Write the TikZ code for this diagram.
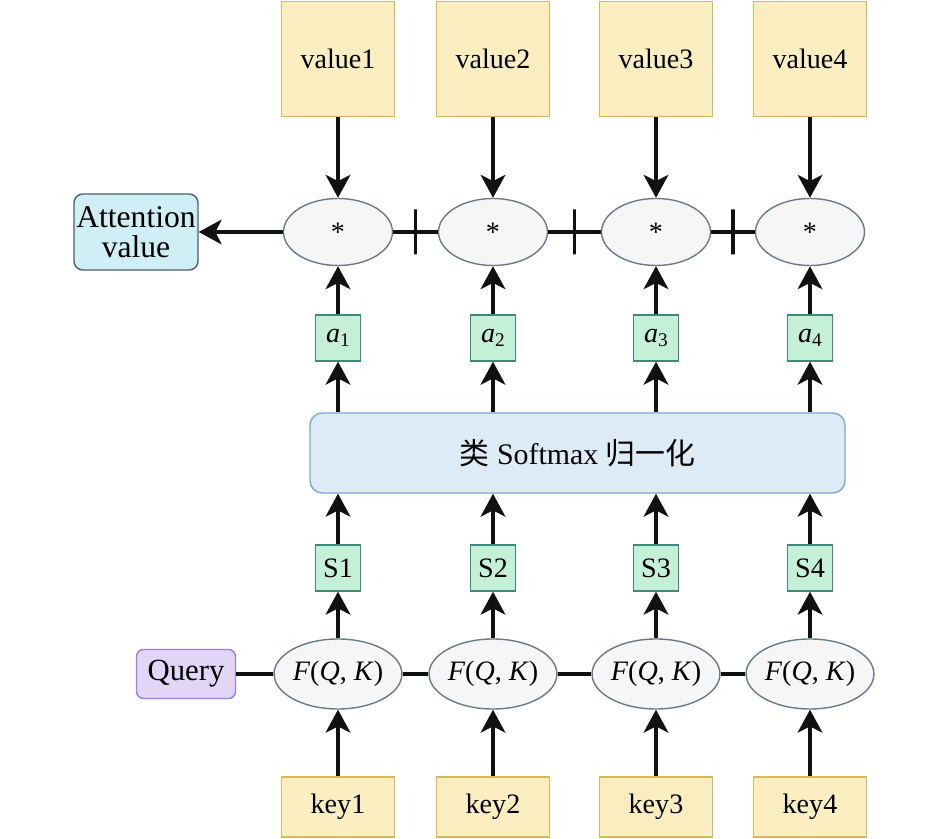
\documentclass[tikz,border=0pt]{standalone}
\usepackage{fontspec}
\setmainfont{Liberation Serif}
\newfontfamily\cjk{Noto Sans CJK SC}
\usepackage{xcolor}
\definecolor{ink}{HTML}{111111}
\definecolor{sandfill}{HTML}{FAEDC0}
\definecolor{sandline}{HTML}{D8B85E}
\definecolor{ovalfill}{HTML}{F6F6F6}
\definecolor{ovalline}{HTML}{6C7A88}
\definecolor{mintfill}{HTML}{C5F0D8}
\definecolor{mintline}{HTML}{3E8A78}
\definecolor{skyfill}{HTML}{DDEBF7}
\definecolor{skyline}{HTML}{80A6D2}
\definecolor{cyanfill}{HTML}{CFEEF5}
\definecolor{cyanline}{HTML}{4E5E6C}
\definecolor{lilacfill}{HTML}{E2D6F6}
\definecolor{lilacline}{HTML}{9C80D8}
\usepackage{tikz}
\usetikzlibrary{arrows.meta,shapes.geometric}
\newcommand{\wt}[1]{\textit{a}\raisebox{-0.35ex}{\fontsize{11}{12}\selectfont #1}}
\newcommand{\fqk}{\textit{F}(\textit{Q}, \textit{K})}

\begin{document}
\begin{tikzpicture}[
  font=\fontsize{16}{18}\selectfont,
  valbox/.style={draw=sandline, thick, fill=sandfill, minimum width=2.26cm, minimum height=2.3cm},
  keybox/.style={draw=sandline, thick, fill=sandfill, minimum width=2.26cm, minimum height=1.2cm},
  prod/.style={ellipse, draw=ovalline, thick, fill=ovalfill, minimum width=2.18cm,
               minimum height=1.34cm, inner sep=0pt},
  score/.style={ellipse, draw=ovalline, thick, fill=ovalfill, minimum width=2.12cm,
                minimum height=1.4cm, inner sep=0pt},
  wbox/.style={draw=mintline, thick, fill=mintfill, minimum width=0.9cm,
               minimum height=0.92cm, inner sep=1pt},
  link/.style={-{Stealth[length=13pt, width=14pt, inset=3.5pt]}, ink, line width=2.2pt},
  wire/.style={ink, line width=2.2pt},
  plusmark/.style={draw=ink, line width=2.2pt, minimum width=0pt, minimum height=0.9cm,
                   inner sep=0pt, outer sep=0pt}
]
  \useasboundingbox (0,0) rectangle (18.9,-16.78);

  % values
  \node[valbox] (v1) at ( 6.76,-1.18) {value1};
  \node[valbox] (v2) at ( 9.86,-1.18) {value2};
  \node[valbox] (v3) at (13.12,-1.18) {value3};
  \node[valbox] (v4) at (16.20,-1.18) {value4};

  % weighted products
  \node[prod] (m1) at ( 6.76,-4.64) {*};
  \node[prod] (m2) at ( 9.86,-4.64) {*};
  \node[prod] (m3) at (13.12,-4.64) {*};
  \node[prod] (m4) at (16.20,-4.64) {*};
  \node[draw=cyanline, thick, fill=cyanfill, rounded corners=5pt, align=center,
        font=\fontsize{18}{20}\selectfont,
        minimum width=2.48cm, minimum height=1.52cm, inner sep=1pt] (att) at (2.72,-4.64)
        {Attention\\[-3pt]value};

  % weights
  \node[wbox] (a1) at ( 6.76,-6.76) {\wt{1}};
  \node[wbox] (a2) at ( 9.86,-6.76) {\wt{2}};
  \node[wbox] (a3) at (13.12,-6.76) {\wt{3}};
  \node[wbox] (a4) at (16.20,-6.76) {\wt{4}};

  \node[draw=skyline, thick, fill=skyfill, rounded corners=7pt, font=\fontsize{17}{19}\selectfont,
        minimum width=10.7cm, minimum height=1.6cm] (soft) at (11.55,-9.06)
        {{\cjk 类} Softmax {\cjk 归一化}};

  % scores
  \node[wbox] (s1) at ( 6.76,-11.36) {S1};
  \node[wbox] (s2) at ( 9.86,-11.36) {S2};
  \node[wbox] (s3) at (13.12,-11.36) {S3};
  \node[wbox] (s4) at (16.20,-11.36) {S4};

  \node[score] (f1) at ( 6.76,-13.48) {\fqk};
  \node[score] (f2) at ( 9.86,-13.48) {\fqk};
  \node[score] (f3) at (13.12,-13.48) {\fqk};
  \node[score] (f4) at (16.20,-13.48) {\fqk};
  \node[draw=lilacline, thick, fill=lilacfill, rounded corners=4pt,
        font=\fontsize{17.5}{19}\selectfont,
        minimum width=1.98cm, minimum height=0.98cm] (qry) at (3.72,-13.48) {Query};

  \node[keybox] (k1) at ( 6.76,-16.14) {key1};
  \node[keybox] (k2) at ( 9.86,-16.14) {key2};
  \node[keybox] (k3) at (13.12,-16.14) {key3};
  \node[keybox] (k4) at (16.20,-16.14) {key4};

  % connectors
  \draw[link] (v1) -- (m1);
  \draw[link] (v2) -- (m2);
  \draw[link] (v3) -- (m3);
  \draw[link] (v4) -- (m4);
  \draw[link] (m1) -- (att);
  \draw[wire] (m1) -- node[plusmark] {} (m2);
  \draw[wire] (m2) -- node[plusmark] {} (m3);
  \draw[wire] (m3) -- node[plusmark] {} (m4);

  \draw[link] (a1) -- (m1);
  \draw[link] (a2) -- (m2);
  \draw[link] (a3) -- (m3);
  \draw[link] (a4) -- (m4);
  \draw[link] (soft.north -| a1) -- (a1);
  \draw[link] (soft.north -| a2) -- (a2);
  \draw[link] (soft.north -| a3) -- (a3);
  \draw[link] (soft.north -| a4) -- (a4);

  \draw[link] (s1) -- (soft.south -| s1);
  \draw[link] (s2) -- (soft.south -| s2);
  \draw[link] (s3) -- (soft.south -| s3);
  \draw[link] (s4) -- (soft.south -| s4);
  \draw[link] (f1) -- (s1);
  \draw[link] (f2) -- (s2);
  \draw[link] (f3) -- (s3);
  \draw[link] (f4) -- (s4);

  \draw[wire] (qry) -- (f1);
  \draw[wire] (f1) -- (f2);
  \draw[wire] (f2) -- (f3);
  \draw[wire] (f3) -- (f4);
  \draw[link] (k1) -- (f1);
  \draw[link] (k2) -- (f2);
  \draw[link] (k3) -- (f3);
  \draw[link] (k4) -- (f4);
\end{tikzpicture}
\end{document}
